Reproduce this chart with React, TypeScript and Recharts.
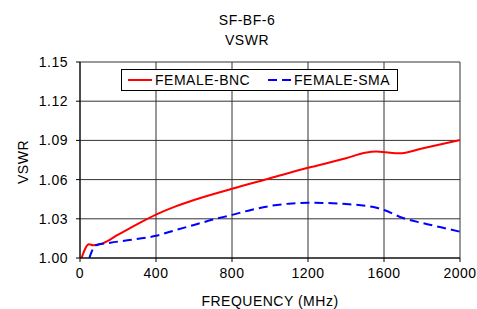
import React from 'react'
import { LineChart, Line, XAxis, YAxis, CartesianGrid } from 'recharts'

// readings
const BNC_FREQ = [8, 47, 70, 120, 200, 300, 400, 500, 600, 800, 1000, 1200, 1400, 1500, 1560, 1610, 1680, 1800, 1900, 2000]
const BNC_VSWR = [1.0, 1.0105, 1.0098, 1.0112, 1.0178, 1.0258, 1.0332, 1.0393, 1.0444, 1.0530, 1.061, 1.0690, 1.0763, 1.0805, 1.0815, 1.0809, 1.0801, 1.0838, 1.0870, 1.0903]

const SMA_FREQ = [49, 65, 79, 160, 250, 400, 500, 600, 700, 800, 900, 1000, 1100, 1200, 1300, 1400, 1500, 1560, 1600, 1700, 1800, 1900, 2000]
const SMA_VSWR = [1.0, 1.006, 1.0095, 1.0117, 1.0135, 1.017, 1.0212, 1.0253, 1.0294, 1.0330, 1.0368, 1.0398, 1.0416, 1.0423, 1.0421, 1.0413, 1.0400, 1.0385, 1.0367, 1.0306, 1.0268, 1.0235, 1.0201]

const X_TICKS = [0, 400, 800, 1200, 1600, 2000]
const Y_TICKS = [1.0, 1.03, 1.06, 1.09, 1.12, 1.15]

const FONT = '"Liberation Sans", Arial, sans-serif'

const bnc = BNC_FREQ.map((f, i) => ({ f, v: BNC_VSWR[i] }))
const sma = SMA_FREQ.map((f, i) => ({ f, v: SMA_VSWR[i] }))

// legend drawn as an overlay so it doesn't eat into the plot area
function LegendBox() {
  return (
    <div
      style={{
        position: 'absolute',
        left: 121,
        top: 69,
        width: 277,
        height: 22,
        boxSizing: 'border-box',
        border: '1px solid #000',
        background: '#fff',
        fontSize: 14,
        letterSpacing: 0.5,
        color: '#000',
      }}
    >
      <svg width={277} height={22} style={{ position: 'absolute', left: -1, top: -1 }}>
        <line x1={7} x2={31} y1={11} y2={11} stroke="#ff0000" strokeWidth={2} />
        <line x1={147} x2={170} y1={11} y2={11} stroke="#0000ff" strokeWidth={2} strokeDasharray="9 5" />
      </svg>
      <span style={{ position: 'absolute', left: 33, top: 2, lineHeight: '16px' }}>FEMALE-BNC</span>
      <span style={{ position: 'absolute', left: 172, top: 2, lineHeight: '16px' }}>FEMALE-SMA</span>
    </div>
  )
}

export default function App() {
  const tickStyle = { fill: '#000', fontSize: 14, fontFamily: FONT, letterSpacing: 0.5 }

  return (
    <div style={{ position: 'absolute', left: 0, top: 0, width: 477, height: 309, background: '#fff', overflow: 'hidden', fontFamily: FONT }}>
      <LineChart width={477} height={309} margin={{ top: 62, right: 17, left: 0, bottom: 0 }}>
        <CartesianGrid stroke="#333" strokeWidth={1} />
        <XAxis
          type="number"
          dataKey="f"
          domain={[0, 2000]}
          ticks={X_TICKS}
          height={51}
          axisLine={{ stroke: '#000' }}
          tickLine={{ stroke: '#000' }}
          tickSize={4}
          tick={tickStyle}
          tickMargin={6}
        />
        <YAxis
          type="number"
          dataKey="v"
          domain={[1.0, 1.15]}
          ticks={Y_TICKS}
          allowDataOverflow
          width={80}
          axisLine={{ stroke: '#000' }}
          tickLine={{ stroke: '#000' }}
          tickSize={4}
          tick={tickStyle}
          tickMargin={8}
          tickFormatter={(v: number) => v.toFixed(2)}
        />
        <Line
          data={bnc}
          dataKey="v"
          name="FEMALE-BNC"
          type="monotone"
          stroke="#ff0000"
          strokeWidth={2}
          dot={false}
          isAnimationActive={false}
        />
        <Line
          data={sma}
          dataKey="v"
          name="FEMALE-SMA"
          type="monotone"
          stroke="#0000ff"
          strokeWidth={2}
          strokeDasharray="9 5"
          dot={false}
          isAnimationActive={false}
        />
      </LineChart>

      <div style={{ position: 'absolute', left: 147, width: 200, top: 10, textAlign: 'center', fontSize: 14, letterSpacing: 0.5, lineHeight: '20px' }}>
        SF-BF-6<br />VSWR
      </div>
      <div
        style={{
          position: 'absolute',
          left: 23,
          top: 162,
          transform: 'translate(-50%, -50%) rotate(-90deg)',
          fontSize: 14,
          letterSpacing: 0.5,
          whiteSpace: 'nowrap',
        }}
      >
        VSWR
      </div>
      <div style={{ position: 'absolute', left: 80, width: 380, top: 293, textAlign: 'center', fontSize: 14, letterSpacing: 0.5 }}>
        FREQUENCY (MHz)
      </div>
      <LegendBox />
    </div>
  )
}
